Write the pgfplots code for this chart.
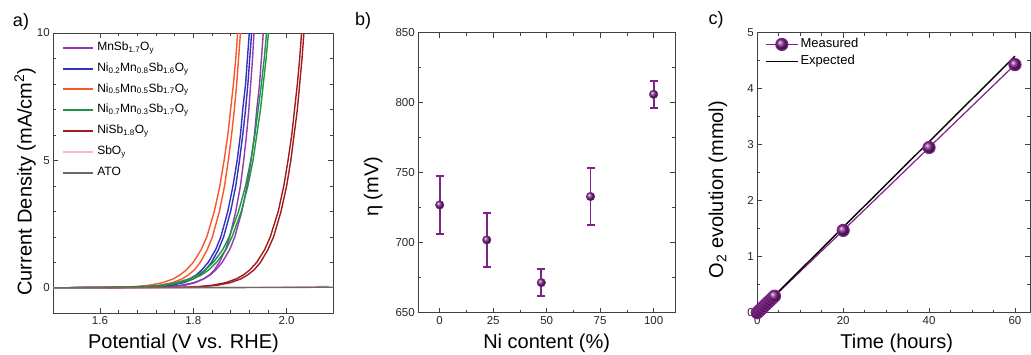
\documentclass[border=0pt]{standalone}
\usepackage{fontspec}
\setmainfont{Liberation Sans}
\usepackage{pgfplots}
\pgfplotsset{compat=1.18}
\definecolor{cpur}{RGB}{150,55,180}
\definecolor{cblu}{RGB}{50,50,190}
\definecolor{cora}{RGB}{250,85,45}
\definecolor{cgre}{RGB}{30,150,70}
\definecolor{cdre}{RGB}{160,28,28}
\definecolor{cpin}{RGB}{250,185,195}
\definecolor{cgra}{RGB}{105,105,105}
\definecolor{cvio}{RGB}{125,35,135}
\pgfplotsset{
 myax/.style={
  scale only axis, anchor=south west,
  tick align=inside, major tick length=5pt, minor tick length=3pt,
  axis line style={line width=1pt, black!75},
  every tick/.append style={line width=0.7pt, black!75},
  tick label style={font=\fontsize{11.5}{13}\selectfont, black!85},
  label style={font=\fontsize{20}{24}\selectfont},
  /pgf/number format/assume math mode=true,
 }
}
\begin{document}
\begin{tikzpicture}
\path[use as bounding box] (0,0) rectangle (1031pt,354pt);
% ---------------- panel a
\begin{axis}[myax, at={(53.3pt,40.7pt)}, width=280pt, height=280.3pt,
  xmin=1.5, xmax=2.1, ymin=-1, ymax=10,
  xtick={1.6,1.8,2.0}, minor x tick num=4,
  ytick={0,5,10}, minor y tick num=4,
  xticklabel style={/pgf/number format/.cd, fixed, fixed zerofill, precision=1},
  xlabel={Potential (V vs. RHE)},
  ylabel={Current Density (mA/cm\textsuperscript{2})},
  xlabel style={at={(axis description cs:0.465,-0.106)}, anchor=center},
  ylabel style={at={(axis description cs:-0.101,0.47)}, anchor=center},
  legend style={draw=none, fill=none, at={(axis description cs:0.031,0.972)}, anchor=north west,
    font=\fontsize{12}{14}\selectfont, row sep=7.3pt, column sep=3pt, inner sep=0pt,
    nodes={inner sep=0pt, text height=9.5pt, text depth=4pt}},
  legend cell align=left,
  legend image code/.code={\draw[#1, line width=2.1pt] (0pt,0pt) -- (30pt,0pt);},
  every axis plot/.append style={line width=1.4pt},
]
\addplot[cpur] coordinates {(1.5,0) (1.730,0.02) (1.760,0.05) (1.782,0.1) (1.804,0.2) (1.822,0.35) (1.834,0.5) (1.845,0.7) (1.856,1) (1.869,1.5) (1.878,2) (1.891,3) (1.901,4) (1.908,5) (1.914,6) (1.919,7) (1.923,8) (1.927,9) (1.930,10) (1.933,11)};
\addlegendentry{MnSb\textsubscript{1.7}O\textsubscript{y}}
\addplot[cpur, forget plot] coordinates {(1.5,0) (1.713,0.02) (1.748,0.05) (1.774,0.1) (1.801,0.2) (1.822,0.35) (1.836,0.5) (1.848,0.7) (1.862,1) (1.878,1.5) (1.889,2) (1.904,3) (1.915,4) (1.924,5) (1.931,6) (1.936,7) (1.942,8) (1.946,9) (1.950,10) (1.954,11)};
\addplot[cblu] coordinates {(1.5,0) (1.683,0.02) (1.718,0.05) (1.744,0.1) (1.771,0.2) (1.792,0.35) (1.806,0.5) (1.818,0.7) (1.832,1) (1.848,1.5) (1.859,2) (1.874,3) (1.885,4) (1.894,5) (1.901,6) (1.906,7) (1.912,8) (1.916,9) (1.920,10) (1.924,11)};
\addlegendentry{Ni\textsubscript{0.2}Mn\textsubscript{0.8}Sb\textsubscript{1.6}O\textsubscript{y}}
\addplot[cblu, forget plot] coordinates {(1.5,0) (1.693,0.02) (1.727,0.05) (1.753,0.1) (1.779,0.2) (1.800,0.35) (1.813,0.5) (1.826,0.7) (1.839,1) (1.854,1.5) (1.865,2) (1.880,3) (1.891,4) (1.899,5) (1.906,6) (1.912,7) (1.917,8) (1.921,9) (1.925,10) (1.929,11)};
\addplot[cora] coordinates {(1.5,0) (1.639,0.02) (1.676,0.05) (1.705,0.1) (1.734,0.2) (1.757,0.35) (1.771,0.5) (1.785,0.7) (1.800,1) (1.817,1.5) (1.829,2) (1.845,3) (1.857,4) (1.866,5) (1.874,6) (1.880,7) (1.886,8) (1.891,9) (1.895,10) (1.899,11)};
\addlegendentry{Ni\textsubscript{0.5}Mn\textsubscript{0.5}Sb\textsubscript{1.7}O\textsubscript{y}}
\addplot[cora, forget plot] coordinates {(1.5,0) (1.669,0.02) (1.703,0.05) (1.729,0.1) (1.755,0.2) (1.776,0.35) (1.789,0.5) (1.802,0.7) (1.815,1) (1.830,1.5) (1.841,2) (1.856,3) (1.867,4) (1.875,5) (1.882,6) (1.888,7) (1.893,8) (1.897,9) (1.901,10) (1.905,11)};
\addplot[cgre] coordinates {(1.5,0) (1.649,0.02) (1.695,0.05) (1.729,0.1) (1.763,0.2) (1.791,0.35) (1.809,0.5) (1.825,0.7) (1.843,1) (1.863,1.5) (1.877,2) (1.897,3) (1.912,4) (1.923,5) (1.932,6) (1.939,7) (1.946,8) (1.952,9) (1.957,10) (1.962,11)};
\addlegendentry{Ni\textsubscript{0.7}Mn\textsubscript{0.3}Sb\textsubscript{1.7}O\textsubscript{y}}
\addplot[cgre, forget plot] coordinates {(1.5,0) (1.661,0.02) (1.706,0.05) (1.739,0.1) (1.772,0.2) (1.799,0.35) (1.817,0.5) (1.833,0.7) (1.850,1) (1.870,1.5) (1.883,2) (1.903,3) (1.917,4) (1.928,5) (1.936,6) (1.944,7) (1.950,8) (1.956,9) (1.961,10) (1.966,11)};
\addplot[cdre] coordinates {(1.5,0) (1.773,0.02) (1.811,0.05) (1.840,0.1) (1.869,0.2) (1.892,0.35) (1.907,0.5) (1.921,0.7) (1.936,1) (1.953,1.5) (1.965,2) (1.982,3) (1.994,4) (2.003,5) (2.011,6) (2.017,7) (2.023,8) (2.028,9) (2.032,10) (2.036,11)};
\addlegendentry{NiSb\textsubscript{1.8}O\textsubscript{y}}
\addplot[cdre, forget plot] coordinates {(1.5,0) (1.786,0.02) (1.823,0.05) (1.851,0.1) (1.879,0.2) (1.902,0.35) (1.916,0.5) (1.930,0.7) (1.944,1) (1.960,1.5) (1.972,2) (1.988,3) (2.000,4) (2.009,5) (2.016,6) (2.023,7) (2.028,8) (2.033,9) (2.037,10) (2.041,11)};
\addplot[cpin] coordinates {(1.5,0) (1.6,0.0) (1.7,0.005) (1.8,0.01) (1.9,0.02) (2.0,0.03) (2.05,0.04) (2.08,0.06) (2.09,0.05)};
\addlegendentry{SbO\textsubscript{y}}
\addplot[cgra] coordinates {(1.5,0) (1.6,0.0) (1.7,0.003) (1.8,0.006) (1.9,0.01) (2.0,0.015) (2.05,0.02) (2.08,0.03) (2.1,0.02)};
\addlegendentry{ATO}
\end{axis}
% ---------------- panel b
\begin{axis}[myax, at={(418.3pt,41.3pt)}, width=256.7pt, height=280pt,
  xmin=-10, xmax=110, ymin=650, ymax=850,
  xtick={0,25,50,75,100}, minor x tick num=1,
  ytick={650,700,750,800,850}, minor y tick num=1,
  xlabel={Ni content (\%)}, ylabel={η (mV)},
  xlabel style={at={(axis description cs:0.5,-0.108)}, anchor=center},
  ylabel style={at={(axis description cs:-0.176,0.45)}, anchor=center},
]
\addplot[cvio, only marks, mark=ball, mark size=4.3pt, mark options={ball color=cvio},
  error bars/.cd, y dir=both, y explicit,
  error bar style={line width=1.8pt, cvio},
  error mark options={rotate=90, mark size=4pt, line width=1.8pt, cvio}]
  coordinates {(0,727) +- (0,20.5) (22,702) +- (0,19.5) (47.5,671.5) +- (0,9.5) (70.5,733) +- (0,20.5) (100,806) +- (0,9.5)};
\end{axis}
% ---------------- panel c
\begin{axis}[myax, at={(757.3pt,41.3pt)}, width=272.7pt, height=280pt,
  xmin=0, xmax=63.5, ymin=0, ymax=5,
  xtick={0,20,40,60}, minor x tick num=3,
  ytick={0,1,2,3,4,5}, minor y tick num=1,
  xlabel={Time (hours)}, ylabel={O\textsubscript{2} evolution (mmol)},
  xlabel style={at={(axis description cs:0.511,-0.108)}, anchor=center},
  ylabel style={at={(axis description cs:-0.144,0.44)}, anchor=center},
  legend style={draw=none, fill=none, at={(axis description cs:0.028,0.983)}, anchor=north west,
    font=\fontsize{13}{15}\selectfont, row sep=3.5pt, column sep=2pt, inner sep=0pt,
    nodes={inner sep=0pt, text height=10pt, text depth=3.5pt}},
  legend cell align=left,
  legend image code/.code={\draw[#1, mark repeat=2, mark phase=2] plot coordinates {(0pt,0pt) (16pt,0pt) (32pt,0pt)};},
]
\addplot[cvio, line width=1.2pt, mark=ball, mark size=6pt, mark options={ball color=cvio}]
  coordinates {(0,0) (0.5,0.037) (1,0.074) (1.5,0.11) (2,0.148) (2.5,0.185) (3,0.22) (3.5,0.258) (4,0.295) (20,1.47) (40,2.95) (60,4.43)};
\addlegendentry{Measured}
\addplot[black, line width=1.4pt] coordinates {(0,0) (60,4.58)};
\addlegendentry{Expected}
\end{axis}
\node[font=\fontsize{18}{20}\selectfont] at (21pt,332pt) {a)};
\node[font=\fontsize{18}{20}\selectfont] at (363pt,333pt) {b)};
\node[font=\fontsize{18}{20}\selectfont] at (716pt,334pt) {c)};
\end{tikzpicture}
\end{document}
